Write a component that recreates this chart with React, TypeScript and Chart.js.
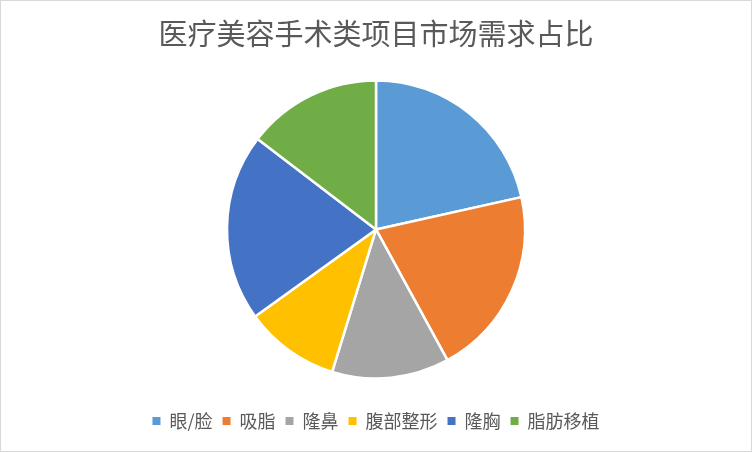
import { useEffect, useRef } from "react";
import { Chart, registerables } from "chart.js";

Chart.register(...registerables);

const title = "医疗美容手术类项目市场需求占比";
const categories = ["眼/脸", "吸脂", "隆鼻", "腹部整形", "隆胸", "脂肪移植"];
const shares = [21.5, 20.5, 12.7, 10.3, 20.3, 14.6];
const colors = ["#5B9BD5", "#ED7D31", "#A5A5A5", "#FFC000", "#4472C4", "#70AD47"];

const FONT = "'Noto Sans CJK SC', 'Noto Sans', sans-serif";

export default function App() {
  const chartRef = useRef<HTMLCanvasElement | null>(null);
  const chartInstanceRef = useRef<Chart | null>(null);

  useEffect(() => {
    document.body.style.margin = "0";
    if (!chartRef.current) return;
    const ctx = chartRef.current.getContext("2d");
    if (!ctx) return;

    if (chartInstanceRef.current) {
      chartInstanceRef.current.destroy();
    }

    chartInstanceRef.current = new Chart(ctx, {
      type: "pie",
      data: {
        labels: categories,
        datasets: [
          {
            data: shares,
            backgroundColor: colors,
            borderColor: "#FFFFFF",
            borderWidth: 2.5,
            radius: 149,
          },
        ],
      },
      options: {
        responsive: false,
        animation: false,
        layout: { padding: { top: 0, bottom: 11, left: 0, right: 0 } },
        plugins: {
          title: {
            display: true,
            text: title,
            color: "#595959",
            font: { family: FONT, size: 29, weight: "normal" },
            padding: { top: 15.6, bottom: 5.5 },
          },
          legend: {
            position: "bottom",
            labels: {
              color: "#595959",
              font: { family: FONT, size: 18 },
              boxWidth: 8,
              boxHeight: 8,
              padding: 10,
              generateLabels: (chart) =>
                Chart.overrides.pie.plugins.legend.labels
                  .generateLabels(chart)
                  .map((item) => ({ ...item, lineWidth: 0, strokeStyle: "transparent" })),
            },
          },
          tooltip: { enabled: false },
        },
      },
    });

    return () => {
      chartInstanceRef.current?.destroy();
      chartInstanceRef.current = null;
    };
  }, []);

  return (
    <div
      style={{
        width: 752,
        height: 452,
        border: "1px solid #D9D9D9",
        boxSizing: "border-box",
        background: "#FFFFFF",
      }}
    >
      <canvas ref={chartRef} width={750} height={450} style={{ display: "block" }}></canvas>
    </div>
  );
}
